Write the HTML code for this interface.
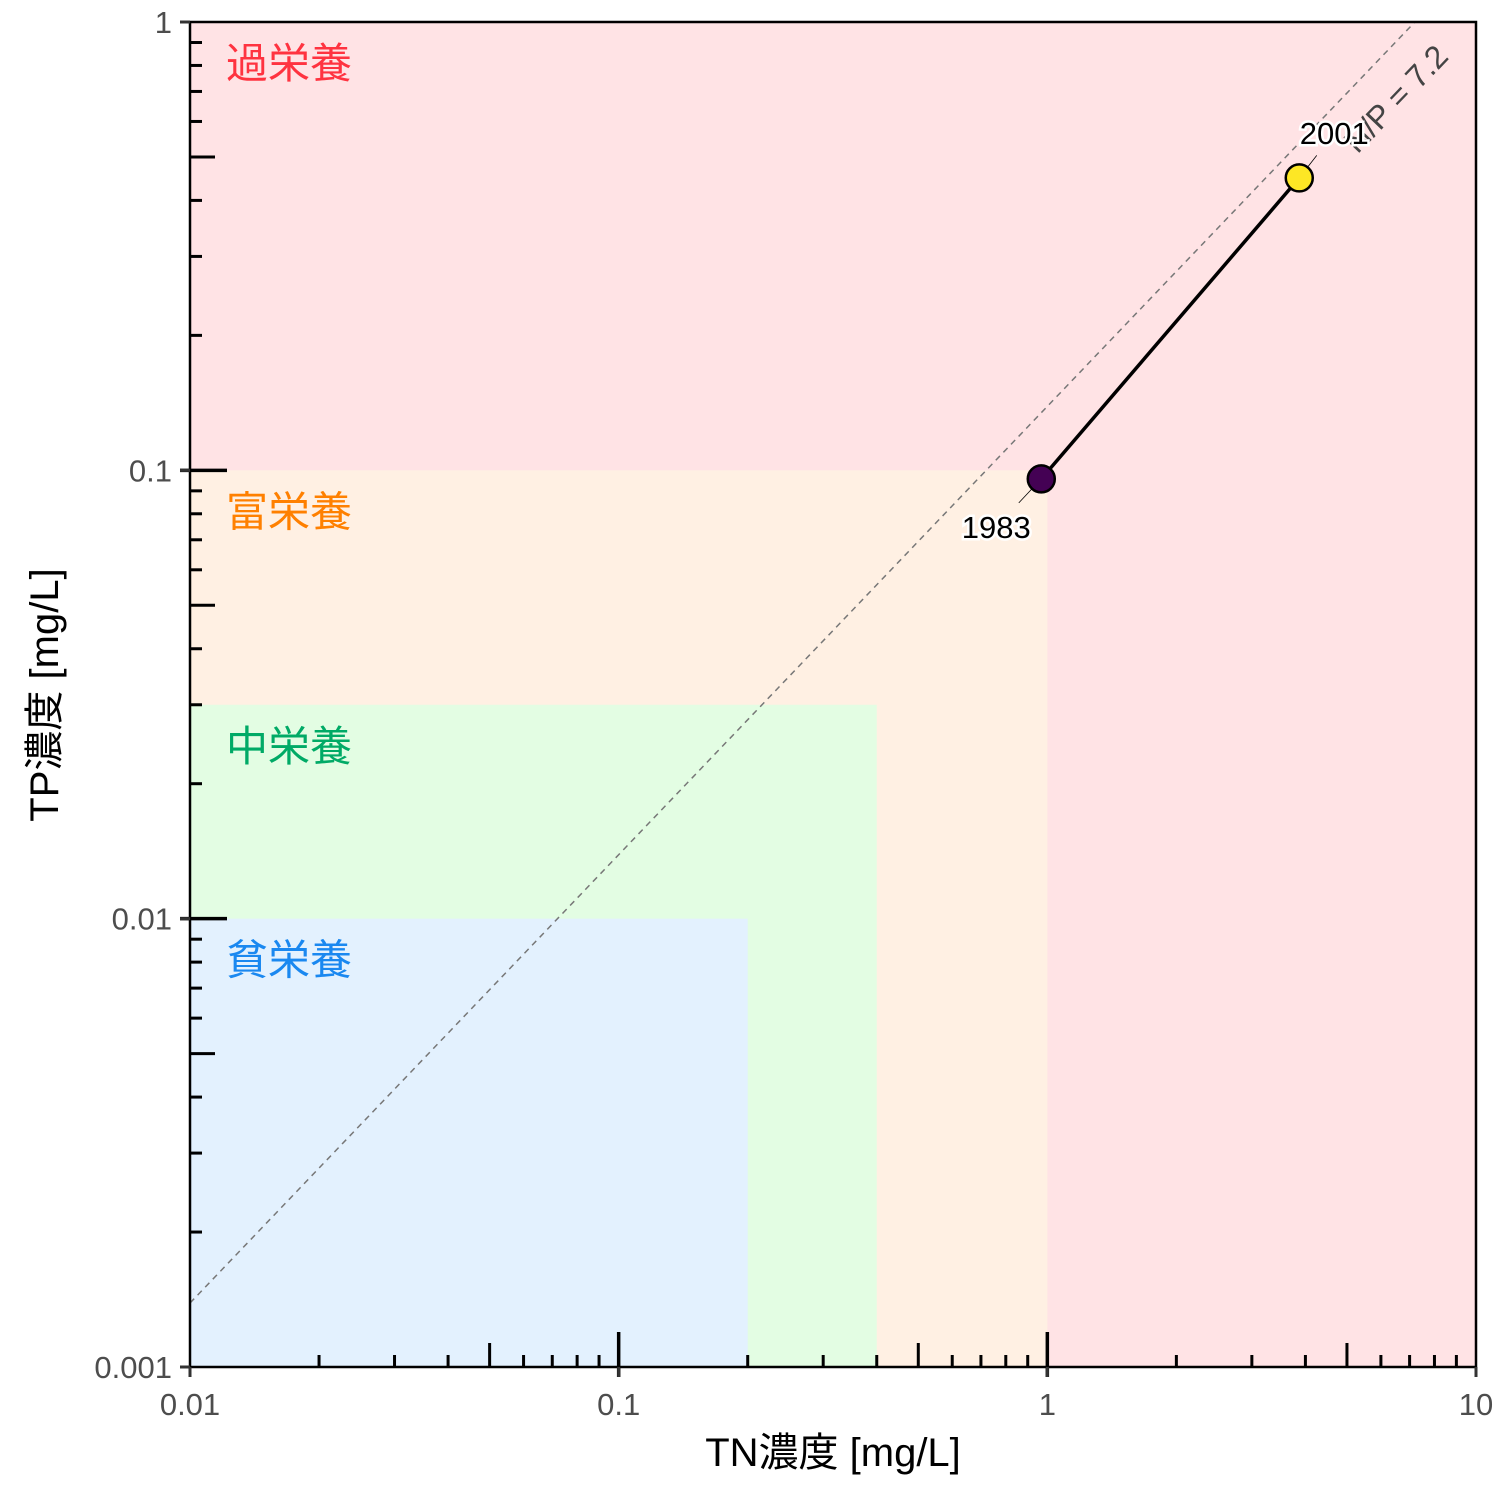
<!DOCTYPE html>
<html><head><meta charset="utf-8"><style>
html,body{margin:0;padding:0;background:#fff;}
svg text{font-family:"Liberation Sans","Noto Sans CJK JP",sans-serif;}
</style></head><body>
<svg id="chart" width="1500" height="1500" viewBox="0 0 1500 1500" xmlns="http://www.w3.org/2000/svg">
<g id="regions"></g>
<g id="labels"></g>
<g id="marks"></g>
<g id="axes"></g>
</svg>
<script>
const years = ["1983","2001"];
const tnValues = [0.968, 3.87];
const tpValues = [0.0957, 0.449];
const pointColors = ["#440154","#FDE725"];
const regionNames = ["過栄養","富栄養","中栄養","貧栄養"];
const regionTN = [10, 1, 0.4, 0.2];
const regionTP = [1, 0.1, 0.03, 0.01];
const regionFill = ["#FFE3E5","#FFF0E3","#E3FDE3","#E3F1FE"];
const regionText = ["#FF3340","#FF8000","#00AA66","#1A88F0"];
const ratio = 7.2;
const xTicks = [0.01,0.1,1,10];
const xTickLabels = ["0.01","0.1","1","10"];
const yTicks = [0.001,0.01,0.1,1];
const yTickLabels = ["0.001","0.01","0.1","1"];

const X0=190,X1=1476,Y0=1367,Y1=22;
const xMinL=-2,xMaxL=1,yMinL=-3,yMaxL=0;
const sx=v=>X0+(Math.log10(v)-xMinL)/(xMaxL-xMinL)*(X1-X0);
const sy=v=>Y0-(Math.log10(v)-yMinL)/(yMaxL-yMinL)*(Y0-Y1);
const NS="http://www.w3.org/2000/svg";
function mk(tag,attrs,parent,text){const e=document.createElementNS(NS,tag);for(const k in attrs)e.setAttribute(k,attrs[k]);if(text!==undefined)e.textContent=text;parent.appendChild(e);return e;}
const gR=document.getElementById('regions'),gL=document.getElementById('labels'),gM=document.getElementById('marks'),gA=document.getElementById('axes');

regionNames.forEach((n,i)=>{
  const r=mk('rect',{x:X0,y:sy(regionTP[i]),width:sx(regionTN[i])-X0,height:Y0-sy(regionTP[i]),fill:regionFill[i]},gR);
  
  
  const t=mk('text',{x:226,y:sy(regionTP[i])+56,'font-size':42,fill:regionText[i]},gL,n);
  
  
});

// ratio line
const tpStart=0.01/ratio;
const dl=mk('line',{x1:sx(0.01),y1:sy(tpStart),x2:sx(ratio*1),y2:sy(1),stroke:'#777','stroke-width':1.5,'stroke-dasharray':'6,5'},gL);


const ang=-Math.atan((sy(tpStart)-sy(1))/(sx(ratio)-sx(0.01)))*180/Math.PI;
const rl=mk('text',{x:1395,y:110,'font-size':32,fill:'#444','text-anchor':'middle',transform:`rotate(${ang} 1395 98)`},gL,'N/P = '+ratio);



// series line
const pl=mk('polyline',{points:tnValues.map((v,i)=>sx(v)+','+sy(tpValues[i])).join(' '),fill:'none',stroke:'#000','stroke-width':3.5},gM);


const offs=[[-45,48],[35,-45]];
years.forEach((y,i)=>{
  const cx=sx(tnValues[i]),cy=sy(tpValues[i]);
  const ld=mk('line',{x1:cx,y1:cy,x2:cx+offs[i][0]*0.5,y2:cy+offs[i][1]*0.5,stroke:'#000','stroke-width':0.8},gM);
  
  
  const c=mk('circle',{cx:cx,cy:cy,r:13.5,fill:pointColors[i],stroke:'#000','stroke-width':2.5},gM);
  
  
  const t=mk('text',{x:cx+offs[i][0],y:cy+offs[i][1]+11,'font-size':31,'text-anchor':'middle',fill:'#000',stroke:'#fff','stroke-width':5,'paint-order':'stroke'},gM,y);
  
  
});

// frame
const fr=mk('rect',{x:X0,y:Y1,width:X1-X0,height:Y0-Y1,fill:'none',stroke:'#000','stroke-width':2.5},gA);



// x ticks
for(let d=-2;d<1;d++){for(let m=1;m<=9;m++){const v=m*Math.pow(10,d);const x=sx(v);
  const len=m===1?35:(m===5?24:12);
  if(m===1&&d===-2)continue;
  const l=mk('line',{x1:x,y1:Y0+(m===1?10:0),x2:x,y2:Y0-len,stroke:'#000','stroke-width':m===1?3.5:3},gA);
  
  }}
xTicks.forEach((v,i)=>{
  const o=mk('line',{x1:sx(v),y1:Y0,x2:sx(v),y2:Y0+10,stroke:'#333','stroke-width':3},gA);
  
  
  const t=mk('text',{x:sx(v),y:1415,'font-size':31,fill:'#4d4d4d','text-anchor':'middle'},gA,xTickLabels[i]);
  
  });
// y ticks
for(let d=-3;d<0;d++){for(let m=1;m<=9;m++){const v=m*Math.pow(10,d);const y=sy(v);
  const len=m===1?37:(m===5?25:12);
  if(m===1&&d===-3)continue;
  const l=mk('line',{x1:X0-(m===1?10:0),y1:y,x2:X0+len,y2:y,stroke:'#000','stroke-width':m===1?3.5:3},gA);
  
  }}
yTicks.forEach((v,i)=>{
  const o=mk('line',{x1:X0-10,y1:sy(v),x2:X0,y2:sy(v),stroke:'#333','stroke-width':3},gA);
  
  
  const t=mk('text',{x:172,y:sy(v)+11,'font-size':31,fill:'#4d4d4d','text-anchor':'end'},gA,yTickLabels[i]);
  
  });

const xt=mk('text',{x:833,y:1466,'font-size':40,fill:'#000','text-anchor':'middle'},gA,'TN濃度 [mg/L]');


const yt=mk('text',{x:0,y:0,'font-size':40,fill:'#000','text-anchor':'middle',transform:'translate(58 695) rotate(-90)'},gA,'TP濃度 [mg/L]');


</script>
</body></html>
